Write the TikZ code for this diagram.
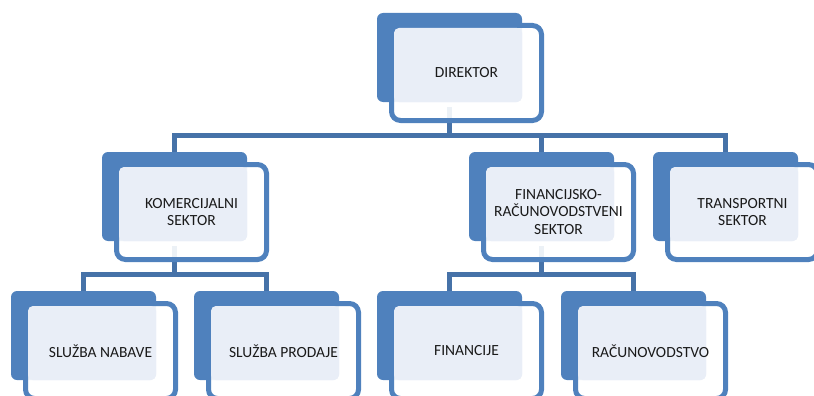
\documentclass[tikz,border=0pt]{standalone}
\usepackage{fontspec}
\setmainfont{Carlito}
\definecolor{backblue}{HTML}{4F81BD}
\definecolor{lineblue}{HTML}{4672A8}
\definecolor{lightfill}{HTML}{E9EEF7}
\definecolor{txt}{HTML}{1A1A1A}
\tikzset{
  backbox/.style={anchor=north west, fill=backblue, draw=none, rounded corners=6pt,
    minimum width=145pt, minimum height=89pt, inner sep=0pt, outer sep=0pt},
  frontbox/.style={anchor=north west, draw=backblue, line width=5pt, fill=white, fill opacity=0.9,
    draw opacity=1, rounded corners=9pt, minimum width=150pt, minimum height=95pt, inner sep=0pt, outer sep=0pt},
  lightbox/.style={anchor=north west, fill=lightfill, draw=none, rounded corners=5pt,
    minimum width=128pt, minimum height=74pt, inner sep=0pt, outer sep=0pt},
  labeltext/.style={align=center, text=txt, inner sep=0pt,
    font=\fontsize{15.5}{17.5}\selectfont},
  conn/.style={draw=lineblue, line width=5pt, line join=miter}
}
\newcommand{\orgunit}[4]{%
  \node[backbox] (#1-b) at (#2,#3) {};
  \node[frontbox] (#1-f) at (#2+14.5,#3+12.5) {};
  \node[lightbox] (#1-l) at (#2+17,#3+15) {};
  \node[labeltext] (#1-t) at (#1-f.center) {#4};
}
\begin{document}
\begin{tikzpicture}[x=1pt,y=-1pt]
\useasboundingbox (0,0) rectangle (814,396);
\clip (0,0) rectangle (814,396);
% bar levels
\coordinate (bar1) at (0,135.5);
\coordinate (bar2) at (0,274);
% invisible placeholders for names (back boxes define connector anchors)
\begin{scope}
\node[backbox, fill=none] (dir-b) at (377,13) {};
\node[backbox, fill=none] (kom-b) at (102,152) {};
\node[backbox, fill=none] (fin-b) at (469,152) {};
\node[backbox, fill=none] (tra-b) at (653,152) {};
\node[backbox, fill=none] (nab-b) at (11,291) {};
\node[backbox, fill=none] (pro-b) at (194,291) {};
\node[backbox, fill=none] (fnc-b) at (377,291) {};
\node[backbox, fill=none] (rac-b) at (561,291) {};
\end{scope}
% connectors
\draw[conn] ([yshift=-5pt]dir-b.south) -- (dir-b.south |- bar1);
\draw[conn] (kom-b.north) -- (kom-b.north |- bar1) -- (tra-b.north |- bar1) -- (tra-b.north);
\draw[conn] (fin-b.north |- bar1) -- (fin-b.north);
\draw[conn] ([yshift=-5pt]kom-b.south) -- (kom-b.south |- bar2);
\draw[conn] (nab-b.north) -- (nab-b.north |- bar2) -- (pro-b.north |- bar2) -- (pro-b.north);
\draw[conn] ([yshift=-5pt]fin-b.south) -- (fin-b.south |- bar2);
\draw[conn] (fnc-b.north) -- (fnc-b.north |- bar2) -- (rac-b.north |- bar2) -- (rac-b.north);
% units
\orgunit{dir}{377}{13}{DIREKTOR}
\orgunit{kom}{102}{152}{KOMERCIJALNI\\SEKTOR}
\orgunit{fin}{469}{152}{FINANCIJSKO-\\RAČUNOVODSTVENI\\SEKTOR}
\orgunit{tra}{653}{152}{TRANSPORTNI\\SEKTOR}
\orgunit{nab}{11}{291}{SLUŽBA NABAVE}
\orgunit{pro}{194}{291}{SLUŽBA PRODAJE}
\orgunit{fnc}{377}{291}{FINANCIJE}
\orgunit{rac}{561}{291}{RAČUNOVODSTVO}
\end{tikzpicture}
\end{document}
